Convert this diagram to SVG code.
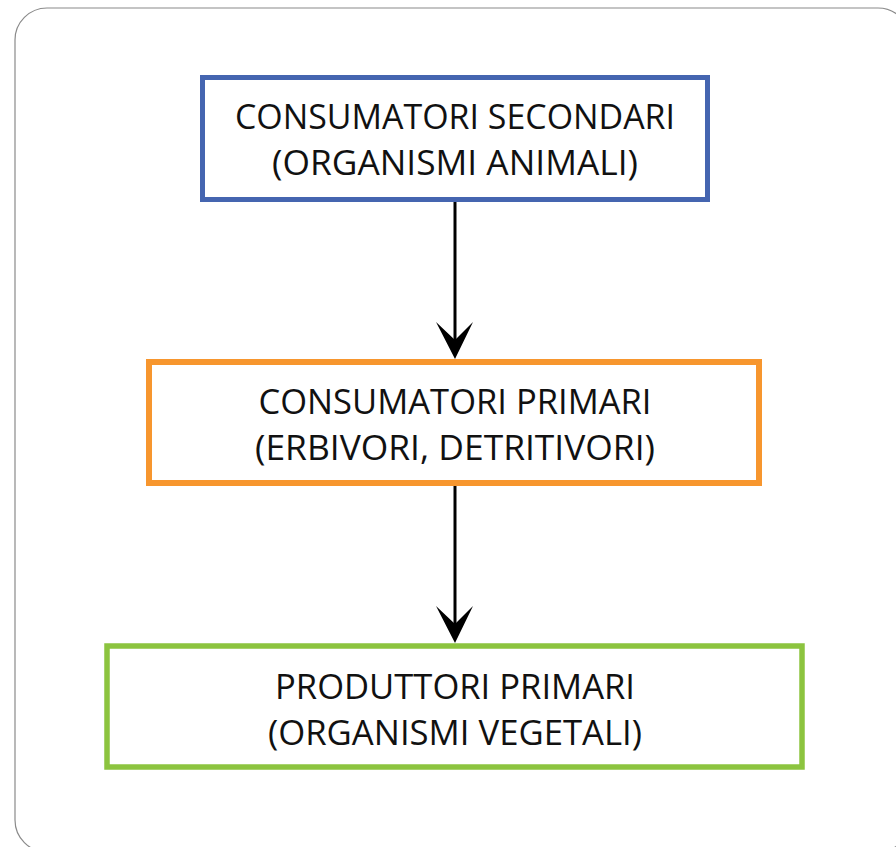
<svg xmlns="http://www.w3.org/2000/svg" width="896" height="847" viewBox="0 0 896 847">
  <style>
    .frame { fill: #ffffff; stroke: #8a8a8a; stroke-width: 1.2; }
    .box { fill: #ffffff; }
    .label { font-family: "Open Sans", "Noto Sans", "Liberation Sans", sans-serif; font-size: 35px; fill: #111111; text-anchor: middle; }
    .link { stroke: #000000; stroke-width: 3; fill: none; }
    .head { fill: #000000; }
  </style>
  <rect x="0" y="0" width="896" height="847" fill="#ffffff"/>
  <rect class="frame" x="15" y="8" width="895" height="844" rx="32" ry="32"/>

  <g id="connectors">
    <line class="link" x1="455" y1="202" x2="455" y2="342"/>
    <path class="head" d="M455 359 L436 322 L455 340 L473 322 Z"/>
    <line class="link" x1="455" y1="486" x2="455" y2="626"/>
    <path class="head" d="M455 643 L436 606 L455 624 L473 606 Z"/>
  </g>

  <g id="consumatori-secondari">
    <rect class="box" x="202.5" y="77.5" width="505" height="122" stroke="#4565b0" stroke-width="5"/>
    <text class="label" x="455" y="129" textLength="440" lengthAdjust="spacingAndGlyphs">CONSUMATORI SECONDARI</text>
    <text class="label" x="455" y="175" textLength="366" lengthAdjust="spacingAndGlyphs">(ORGANISMI ANIMALI)</text>
  </g>

  <g id="consumatori-primari">
    <rect class="box" x="149" y="362" width="610" height="121" stroke="#f7962e" stroke-width="6"/>
    <text class="label" x="455" y="414" textLength="393" lengthAdjust="spacingAndGlyphs">CONSUMATORI PRIMARI</text>
    <text class="label" x="455" y="460" textLength="400" lengthAdjust="spacingAndGlyphs">(ERBIVORI, DETRITIVORI)</text>
  </g>

  <g id="produttori-primari">
    <rect class="box" x="107" y="646" width="695" height="121" stroke="#8cc43f" stroke-width="5.5"/>
    <text class="label" x="455" y="699" textLength="360" lengthAdjust="spacingAndGlyphs">PRODUTTORI PRIMARI</text>
    <text class="label" x="455" y="745" textLength="374" lengthAdjust="spacingAndGlyphs">(ORGANISMI VEGETALI)</text>
  </g>
</svg>
